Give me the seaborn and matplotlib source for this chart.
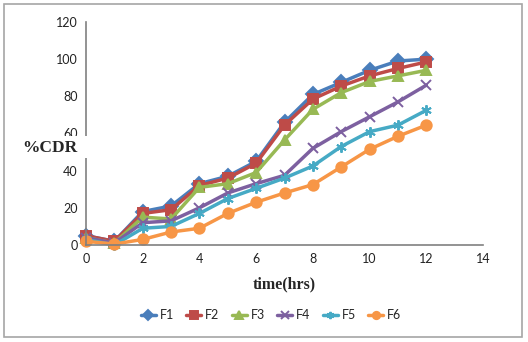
import matplotlib
matplotlib.use("Agg")
import matplotlib.pyplot as plt
import matplotlib.patches as mpatches
import numpy as np
import pandas as pd
import seaborn as sns

# Cumulative drug release (%CDR) of six formulations over 12 hours
time_hrs = [0, 1, 2, 3, 4, 5, 6, 7, 8, 9, 10, 11, 12]
F1 = [5, 2, 18, 21, 33, 37, 45, 66, 81, 87.5, 94, 99, 100]
F2 = [5, 2, 17, 19, 32, 36, 44, 64.5, 78.5, 85.5, 91, 95, 98.5]
F3 = [4, 1, 15, 14, 31, 33, 39, 56.5, 73, 82, 88, 91, 94]
F4 = [4, 1, 12, 13, 20, 28, 33, 37.5, 52, 61, 69, 77, 86]
F5 = [3, 0, 9, 10, 17, 25, 30.5, 36, 42.5, 53, 61, 64.5, 72.5]
F6 = [2, 0.5, 3, 7, 9, 17, 23, 28, 32.5, 42, 51.5, 58.5, 64.5]
series_names = ["F1", "F2", "F3", "F4", "F5", "F6"]
x_ticks = [0, 2, 4, 6, 8, 10, 12, 14]
y_ticks = [0, 20, 40, 60, 80, 100, 120]

df = pd.DataFrame({
    "time": time_hrs * 6,
    "cdr": F1 + F2 + F3 + F4 + F5 + F6,
    "formulation": sum([[n] * len(time_hrs) for n in series_names], []),
})

palette = {"F1": "#4A7EBB", "F2": "#BE4B48", "F3": "#98B954",
           "F4": "#7D60A0", "F5": "#46AAC5", "F6": "#F79646"}
markers = {"F1": "D", "F2": "s", "F3": "^", "F4": "x",
           "F5": (6, 2, 0), "F6": "o"}

sns.set_theme(style="white")
plt.rcParams["font.family"] = ["Lato", "DejaVu Sans"]

fig = plt.figure(figsize=(5.28, 3.42), dpi=100)
ax = fig.add_axes([86 / 528, 1 - 245 / 342, (483 - 86) / 528, (245 - 22) / 342])

for name in series_names:
    sub = df[df["formulation"] == name]
    sns.lineplot(data=sub, x="time", y="cdr", color=palette[name],
                 marker=markers[name], markersize=7.5, markeredgewidth=1.4,
                 markeredgecolor=palette[name], linewidth=2.5,
                 label=name, ax=ax, clip_on=False)

ax.set_xlim(0, 14)
ax.set_ylim(0, 120)
ax.set_xticks(x_ticks)
ax.set_yticks(y_ticks)
ax.tick_params(axis="both", length=0, labelsize=9, colors="#222222", pad=6)
for side in ("top", "right"):
    ax.spines[side].set_visible(False)
for side in ("left", "bottom"):
    ax.spines[side].set_color("#808080")
    ax.spines[side].set_linewidth(1.2)
ax.grid(False)

ax.set_xlabel("time(hrs)", fontfamily="Liberation Serif", fontweight="bold",
              fontsize=11.5, labelpad=8)
ax.set_ylabel("")

# y-axis title sits on a white box across the axis
fig.text(22 / 528, 1 - 148 / 342, "%CDR", fontfamily="Liberation Serif",
         fontweight="bold", fontsize=12.5, ha="left", va="center",
         bbox=dict(facecolor="white", edgecolor="none",
                   boxstyle="square,pad=0.2"), zorder=10)
fig.patches.append(mpatches.Rectangle((14 / 528, 1 - 158 / 342), 78 / 528, 22 / 342,
                                      transform=fig.transFigure, facecolor="white",
                                      edgecolor="none", zorder=9))

handles, labels = ax.get_legend_handles_labels()
ax.legend_.remove()
fig.legend(handles, labels, loc="center", bbox_to_anchor=(271 / 528, 1 - 315 / 342),
           ncol=6, frameon=False, fontsize=9, handlelength=1.2,
           columnspacing=1.0, handletextpad=0.3, markerscale=0.7)

# outer chart border
fig.patches.append(mpatches.Rectangle((4 / 528, 5 / 342), 518 / 528, 333 / 342,
                                      transform=fig.transFigure, fill=False,
                                      edgecolor="#A6A6A6", linewidth=1.2))

fig.savefig("out.png", dpi=100)
